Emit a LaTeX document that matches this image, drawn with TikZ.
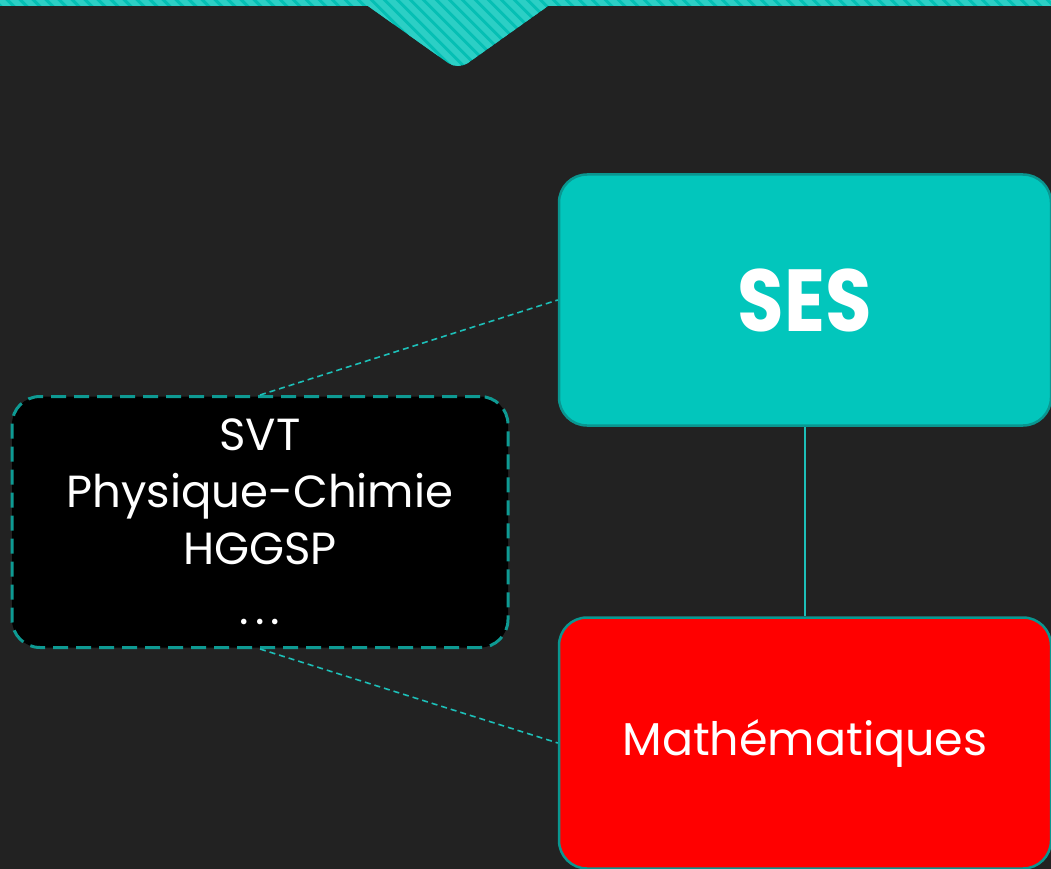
\documentclass[tikz,border=0pt]{standalone}
\usepackage{fontspec}
\setmainfont{Poppins}
\definecolor{bg}{HTML}{222222}
\definecolor{tealfill}{HTML}{02C6BC}
\definecolor{tealborder}{HTML}{0A9690}
\definecolor{dashborder}{HTML}{0E9A93}
\definecolor{linkcol}{HTML}{1DBFB8}
\definecolor{stripeA}{HTML}{05BFB4}
\definecolor{stripeB}{HTML}{2CCFC5}
\definecolor{redfill}{HTML}{FF0000}
\begin{document}
\begin{tikzpicture}[x=1pt,y=-1pt,
  box/.style={rectangle, rounded corners=28pt, minimum width=492pt, minimum height=251pt, line width=2.5pt, text=white, align=center},
  sesbox/.style={box, fill=tealfill, draw=tealborder, font=\fontsize{88}{100}\selectfont\bfseries},
  mathbox/.style={box, fill=redfill, draw=tealborder, font=\fontsize{46}{57}\selectfont},
  otherbox/.style={box, minimum width=496pt, fill=black, draw=dashborder, line width=3pt, dash pattern=on 15pt off 8pt, font=\fontsize{45}{57}\selectfont},
  link/.style={draw=linkcol, line width=2pt},
  dlink/.style={draw=linkcol, line width=1.6pt, dash pattern=on 6pt off 4pt}]
\useasboundingbox (0,0) rectangle (1051,869);
\fill[bg] (0,0) rectangle (1051,869);
\clip (0,0) rectangle (1051,869);
% banner
\begin{scope}
\clip (0,-2) -- (1051,-2) -- (1051,6) -- (548,6) [rounded corners=12pt] -- (458,70) [sharp corners] -- (368,6) -- (0,6) -- cycle;
\fill[stripeA] (0,-2) rectangle (1051,80);
\foreach \i in {-100,-87,...,1100} {
  \draw[stripeB, line width=6pt] (\i,-10) -- (\i+100,90);
}
\end{scope}
% nodes
\node[sesbox] (ses) at (805,300) {\scalebox{0.86}[1]{SES}};
\node[mathbox] (math) at (805,743) {Mathématiques};
\node[otherbox] (other) at (260,522) {SVT\\Physique-Chimie\\HGGSP\\[3pt]\hbox{.\hspace{6pt}.\hspace{6pt}.}};
% connectors
\draw[link] (ses.south) -- (math.north);
\draw[dlink] (other.north) -- (ses.west);
\draw[dlink] (other.south) -- (math.west);
\end{tikzpicture}
\end{document}
